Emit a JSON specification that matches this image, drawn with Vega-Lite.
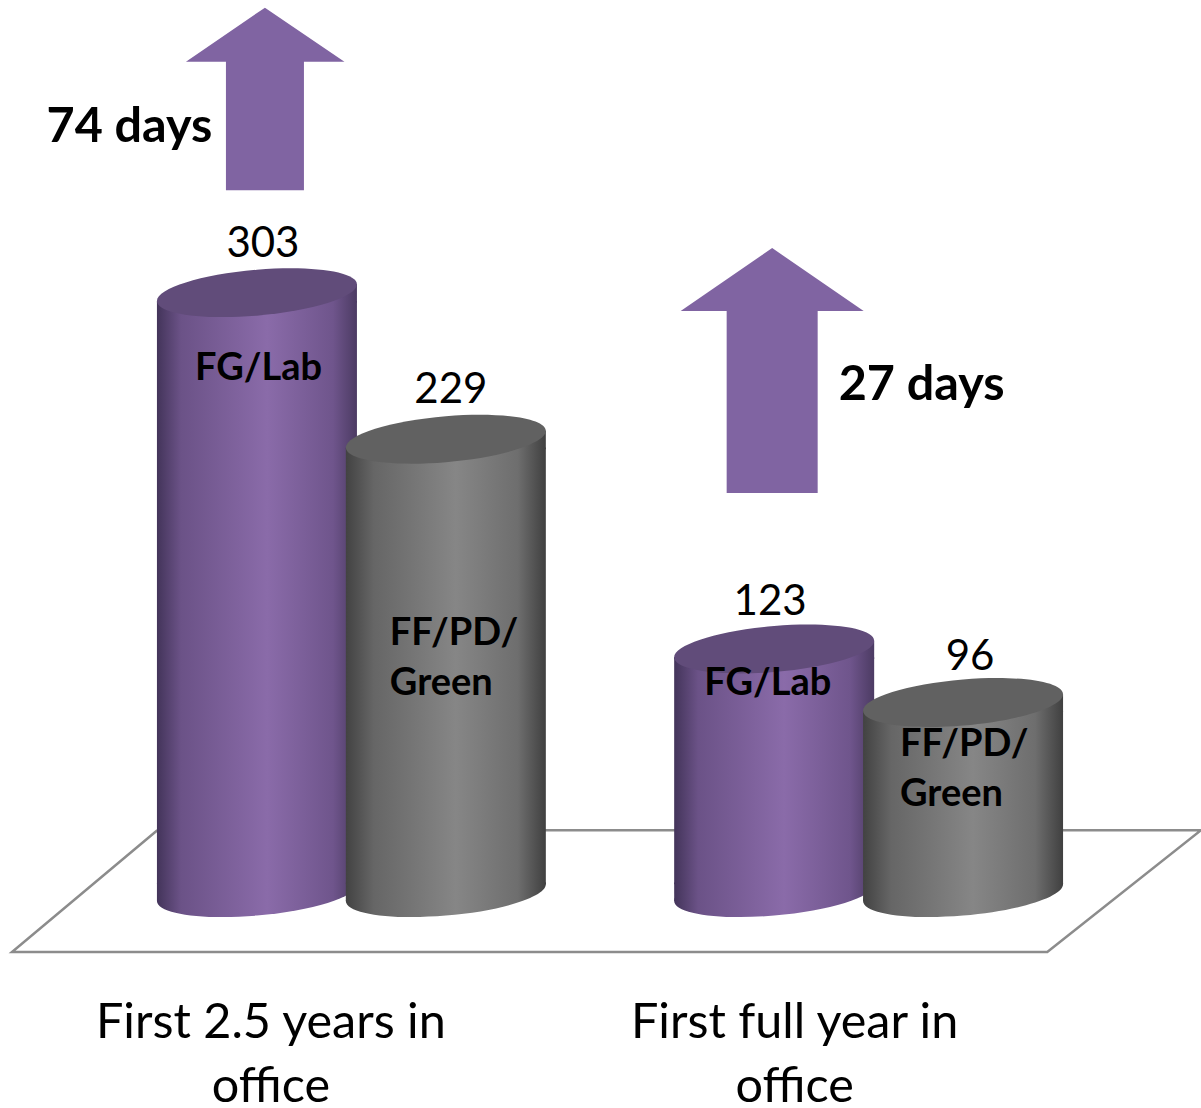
{
"$schema":"https://vega.github.io/schema/vega-lite/v6.json",
"width":1201,"height":1108,"padding":0,"autosize":"none",
"background":"white",
"config":{"view":{"stroke":null},"text":{"font":"Lato","color":"#000000"}},
"data":{"values":[
{"group":"First 2.5 years in\noffice","series":"FG/Lab","label":"FG/Lab","value":303,"gain":"74 days"},
{"group":"First 2.5 years in\noffice","series":"FF/PD/Green","label":"FF/PD/\nGreen","value":229},
{"group":"First full year in\noffice","series":"FG/Lab","label":"FG/Lab","value":123,"gain":"27 days"},
{"group":"First full year in\noffice","series":"FF/PD/Green","label":"FF/PD/\nGreen","value":96}
]},
"encoding":{
"x":{"field":"group","type":"nominal","axis":null,"sort":null,"scale":{"type":"band","domain":["First 2.5 years in\noffice","First full year in\noffice"],"range":[162.5,1057.5],"paddingInner":0.2696,"paddingOuter":0}},
"xOffset":{"field":"series","type":"nominal","sort":null,"scale":{"domain":["FG/Lab","FF/PD/Green"],"padding":0}},
"y":{"field":"value","type":"quantitative","axis":null,"scale":{"domain":[-108.8,450.8],"nice":false,"zero":false}}
},
"layer":[
{"data":{"values":[{"fx":13.1,"fy":31.5,"o":1},{"fx":1.0,"fy":-30,"o":2},{"fx":87.2,"fy":-30,"o":3},{"fx":100,"fy":31.5,"o":4},{"fx":13.1,"fy":31.5,"o":5}]},
"mark":{"type":"line","color":"#8c8c8c","strokeWidth":2.5},
"encoding":{"x":{"field":"fx","type":"quantitative","axis":null,"scale":{"domain":[0,100],"nice":false}},"xOffset":null,"y":{"field":"fy","type":"quantitative","axis":null},"order":{"field":"o"}}},

{"transform":[{"filter":"datum.series==='FG/Lab'"}],"mark":{"type":"bar","width":200,"yOffset":8.3,"y2Offset":-8.3,"color":{"gradient":"linear","x1":0,"x2":1,"y1":0,"y2":0,"stops":[{"offset":0,"color":"#43345a"},{"offset":0.12,"color":"#6b5287"},{"offset":0.55,"color":"#8a6ba9"},{"offset":0.88,"color":"#6f558c"},{"offset":1,"color":"#4c3b63"}]}},"encoding":{"y2":{"datum":0}}},
{"transform":[{"filter":"datum.series==='FG/Lab'"}],"mark":{"type":"point","filled":true,"opacity":1,"size":40000,"shape":"M-1,.083 L1,-.083 L1,.1 L-1,.1 Z","color":{"gradient":"linear","x1":0,"x2":1,"y1":0,"y2":0,"stops":[{"offset":0,"color":"#43345a"},{"offset":0.12,"color":"#6b5287"},{"offset":0.55,"color":"#8a6ba9"},{"offset":0.88,"color":"#6f558c"},{"offset":1,"color":"#4c3b63"}]}}},
{"transform":[{"filter":"datum.series==='FG/Lab'"}],"mark":{"type":"point","filled":true,"opacity":1,"size":40000,"shape":"M1,-.083 C1,.044 .552,.184 0,.23 C-.552,.276 -1,.21 -1,.083 C-1,-.044 -.552,-.184 0,-.23 C.552,-.276 1,-.21 1,-.083Z","color":{"gradient":"linear","x1":0,"x2":1,"y1":0,"y2":0,"stops":[{"offset":0,"color":"#43345a"},{"offset":0.12,"color":"#6b5287"},{"offset":0.55,"color":"#8a6ba9"},{"offset":0.88,"color":"#6f558c"},{"offset":1,"color":"#4c3b63"}]}},"encoding":{"y":{"datum":0}}},
{"transform":[{"filter":"datum.series==='FG/Lab'"}],"mark":{"type":"point","filled":true,"opacity":1,"size":40000,"shape":"M-1,-.1 L1,-.1 L1,-.083 L-1,.083 Z","color":{"gradient":"linear","x1":0,"x2":1,"y1":0,"y2":0,"stops":[{"offset":0,"color":"#43345a"},{"offset":0.12,"color":"#6b5287"},{"offset":0.55,"color":"#8a6ba9"},{"offset":0.88,"color":"#6f558c"},{"offset":1,"color":"#4c3b63"}]}},"encoding":{"y":{"datum":0}}},
{"transform":[{"filter":"datum.series==='FG/Lab'"}],"mark":{"type":"point","filled":true,"opacity":1,"size":40000,"color":"#614c7a","shape":"M1,-.083 C1,.044 .552,.184 0,.23 C-.552,.276 -1,.21 -1,.083 C-1,-.044 -.552,-.184 0,-.23 C.552,-.276 1,-.21 1,-.083Z"}},

{"transform":[{"filter":"datum.series==='FF/PD/Green'"}],"mark":{"type":"bar","width":200,"yOffset":8.3,"y2Offset":-8.3,"color":{"gradient":"linear","x1":0,"x2":1,"y1":0,"y2":0,"stops":[{"offset":0,"color":"#424242"},{"offset":0.14,"color":"#666666"},{"offset":0.55,"color":"#868686"},{"offset":0.86,"color":"#6e6e6e"},{"offset":1,"color":"#404040"}]}},"encoding":{"y2":{"datum":0}}},
{"transform":[{"filter":"datum.series==='FF/PD/Green'"}],"mark":{"type":"point","filled":true,"opacity":1,"size":40000,"shape":"M-1,.083 L1,-.083 L1,.1 L-1,.1 Z","color":{"gradient":"linear","x1":0,"x2":1,"y1":0,"y2":0,"stops":[{"offset":0,"color":"#424242"},{"offset":0.14,"color":"#666666"},{"offset":0.55,"color":"#868686"},{"offset":0.86,"color":"#6e6e6e"},{"offset":1,"color":"#404040"}]}}},
{"transform":[{"filter":"datum.series==='FF/PD/Green'"}],"mark":{"type":"point","filled":true,"opacity":1,"size":40000,"shape":"M1,-.083 C1,.044 .552,.184 0,.23 C-.552,.276 -1,.21 -1,.083 C-1,-.044 -.552,-.184 0,-.23 C.552,-.276 1,-.21 1,-.083Z","color":{"gradient":"linear","x1":0,"x2":1,"y1":0,"y2":0,"stops":[{"offset":0,"color":"#424242"},{"offset":0.14,"color":"#666666"},{"offset":0.55,"color":"#868686"},{"offset":0.86,"color":"#6e6e6e"},{"offset":1,"color":"#404040"}]}},"encoding":{"y":{"datum":0}}},
{"transform":[{"filter":"datum.series==='FF/PD/Green'"}],"mark":{"type":"point","filled":true,"opacity":1,"size":40000,"shape":"M-1,-.1 L1,-.1 L1,-.083 L-1,.083 Z","color":{"gradient":"linear","x1":0,"x2":1,"y1":0,"y2":0,"stops":[{"offset":0,"color":"#424242"},{"offset":0.14,"color":"#666666"},{"offset":0.55,"color":"#868686"},{"offset":0.86,"color":"#6e6e6e"},{"offset":1,"color":"#404040"}]}},"encoding":{"y":{"datum":0}}},
{"transform":[{"filter":"datum.series==='FF/PD/Green'"}],"mark":{"type":"point","filled":true,"opacity":1,"size":40000,"color":"#616161","shape":"M1,-.083 C1,.044 .552,.184 0,.23 C-.552,.276 -1,.21 -1,.083 C-1,-.044 -.552,-.184 0,-.23 C.552,-.276 1,-.21 1,-.083Z"}},

{"transform":[{"filter":"datum.gain==='74 days'"}],"mark":{"type":"point","filled":true,"opacity":1,"size":40000,"color":"#8064a2","shape":"M.08,-2.85 L.875,-2.31 L.47,-2.31 L.47,-1.025 L-.31,-1.025 L-.31,-2.31 L-.71,-2.31Z"}},
{"transform":[{"filter":"datum.gain==='27 days'"}],"mark":{"type":"point","filled":true,"opacity":1,"size":40000,"color":"#8064a2","shape":"M-.02,-4.01 L.895,-3.38 L.435,-3.38 L.435,-1.56 L-.475,-1.56 L-.475,-3.38 L-.935,-3.38Z"}},

{"mark":{"type":"text","fontSize":42,"baseline":"middle","align":"center","dx":{"expr":"({'303':6,'229':5,'123':-4,'96':7})[datum.value]"},"dy":{"expr":"({'303':-48.5,'229':-49.5,'123':-47,'96':-45.5})[datum.value]"}},"encoding":{"text":{"field":"value","type":"quantitative"}}},
{"mark":{"type":"text","fontSize":38,"fontWeight":"bold","baseline":"middle","align":"left","lineBreak":"\n","lineHeight":50,"dx":{"expr":"({'303':-62,'229':-56,'123':-70,'96':-63})[datum.value]"},"dy":{"expr":"({'303':76.5,'229':194.5,'123':35,'96':42.5})[datum.value]"}},"encoding":{"text":{"field":"label","type":"nominal"}}},
{"transform":[{"filter":"isValid(datum.gain)"}],"mark":{"type":"text","fontSize":48.5,"fontWeight":"bold","baseline":"middle","align":"center","dx":{"expr":"datum.value==303?-127.5:147.5"},"dy":{"expr":"datum.value==303?-166:-264"}},"encoding":{"text":{"field":"gain","type":"nominal"}}},
{"transform":[{"filter":"datum.series==='FG/Lab'"}],"mark":{"type":"text","fontSize":48.5,"baseline":"middle","align":"center","lineBreak":"\n","lineHeight":64,"dx":{"expr":"datum.value==303?-80.5:-74"},"dy":130},"encoding":{"xOffset":null,"y":{"datum":0},"text":{"field":"group","type":"nominal"}}}
],
"resolve":{"scale":{"x":"independent"}}
}
